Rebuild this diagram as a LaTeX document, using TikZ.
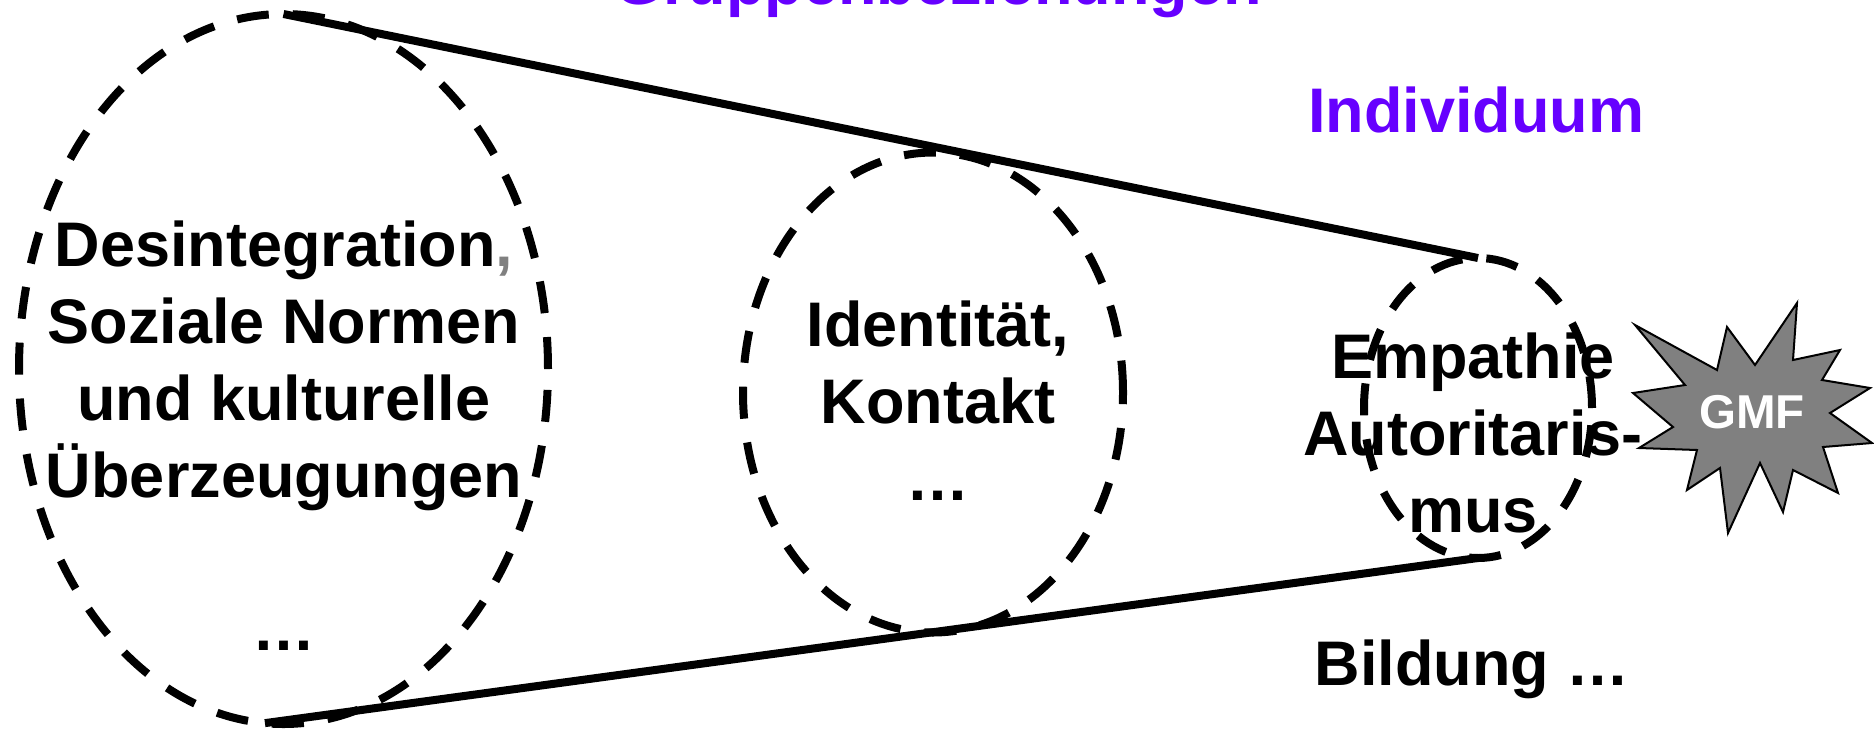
\documentclass[tikz,border=0pt]{standalone}
\usepackage{fontspec}
\setmainfont{Liberation Sans}
\usetikzlibrary{shapes.geometric}
\definecolor{violetsix}{RGB}{102,0,255}
\definecolor{gmfgray}{RGB}{128,128,128}
\begin{document}
\begin{tikzpicture}[x=0.5pt,y=-0.5pt,
  circ/.style={ellipse, draw=black, line width=4pt, dash pattern=on 16pt off 12pt, inner sep=0pt, outer sep=0pt},
  lab/.style={font=\bfseries\fontsize{31.5}{38.5}\selectfont, align=center, anchor=base, inner sep=0pt},
  conn/.style={line width=4pt, draw=black},
  burst/.style={fill=gmfgray, draw=black, line width=1pt, line join=miter}]
\useasboundingbox (0,0) rectangle (1874,729);
\clip (0,0) rectangle (1874,729);
% texts (base anchor = baseline of the last line)
\node[lab, text=violetsix] (title) at (938,4) {Gruppenbeziehungen};
\node[lab, text=violetsix] (indiv) at (1476,132) {Individuum};
\node[lab] (tbig) at (284,497) {Desintegration\textcolor{gmfgray}{,}\\Soziale Normen\\und kulturelle\\Überzeugungen};
\node[lab] (bigdots) at (284,650) {…};
\node[lab] (tmid) at (938,500) {Identität,\\Kontakt\\…};
\node[lab] (tsmall) at (1473,532) {Empathie\\Autoritaris-\\mus};
\node[lab] (bild) at (1472,685) {Bildung …};
% ellipses
\node[circ, minimum width=264.5pt, minimum height=355pt] (big) at (283.5,369) {};
\node[circ, minimum width=190pt, minimum height=240pt] (mid) at (933,392.5) {};
\node[circ, minimum width=114pt, minimum height=150pt] (small) at (1478,408) {};
% connectors
\draw[conn] (big.north) -- (small.north);
\draw[conn] (big.267) -- (small.south);
% starburst
\draw[burst] (1635,325) -- (1717,370) -- (1727,327) -- (1755,365) -- (1797,303) -- (1793,360) -- (1840,350) -- (1822,380) -- (1870,388) -- (1830,413) -- (1872,443) -- (1823,447) -- (1838,493) -- (1793,470) -- (1783,512) -- (1760,463) -- (1728,533) -- (1720,468) -- (1687,490) -- (1697,450) -- (1639,448) -- (1673,427) -- (1633,393) -- (1685,385) -- cycle;
\node[font=\bfseries\fontsize{23.75}{28}\selectfont, text=white, anchor=base, inner sep=0pt] (gmf) at (1752,428) {GMF};
\end{tikzpicture}
\end{document}
